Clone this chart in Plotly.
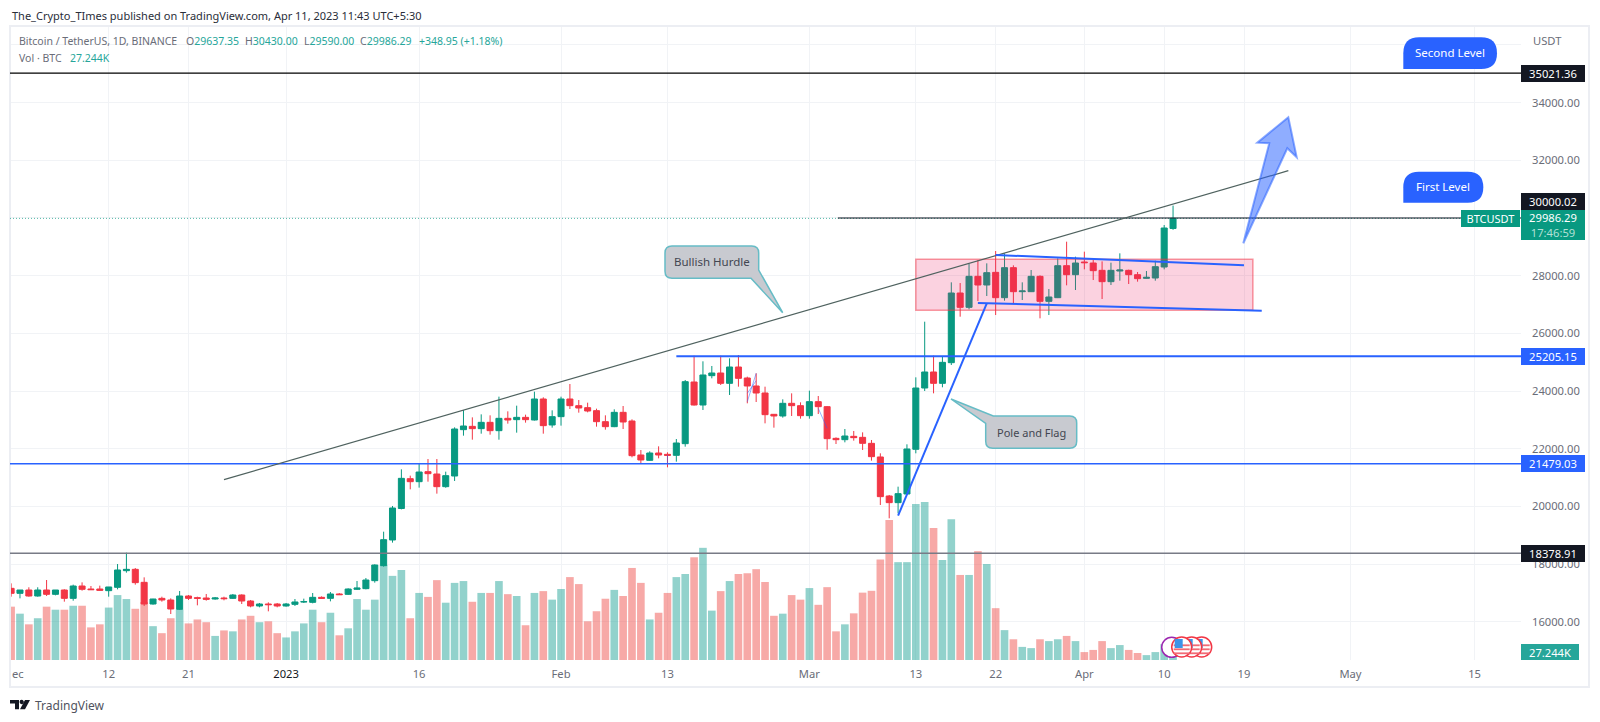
import pandas as pd
import plotly.graph_objects as go

# the page keeps an 8px body margin, so the figure is 16px smaller than the window
PAGE_MARGIN = 8
W = 1600 - 2 * PAGE_MARGIN
H = 722 - 2 * PAGE_MARGIN

# daily candles, Dec 1 2022 to Apr 11 2023
dates = pd.date_range("2022-12-01", periods=132).strftime("%Y-%m-%d").tolist()

opens = [
    17163,16990,17105,16897,17105,16955,17105,16816,17244,17140,17140,17082,17198,17775,17822,17371,
    16620,16816,16759,16435,16897,16840,16828,16793,16828,16816,16932,16724,16551,16620,16620,
    16551,16608,16690,16678,16851,16816,16967,16955,17129,17152,17429,17949,18839,19930,20964,20860,
    21207,21126,20687,21057,22663,22778,22698,22917,22628,23056,23010,23090,22998,23726,22825,
    23114,23726,23495,23426,23322,22940,22767,23264,22963,21785,21600,21854,21808,21773,
    22178,24315,23518,24535,24627,24269,24835,24454,24177,23934,23195,23137,23576,23495,
    23148,23634,23460,22362,22316,22432,22397,22189,21716,20364,20133,20433,21982,24107,24662,24269,
    24985,27400,26903,27978,27677,28116,27238,28278,27446,27446,27978,27111,27238,28347,28035,
    28474,28440,28186,27793,28162,28186,28035,27908,27920,28301,29637.35,
]
highs = [
    17336,17105,17200,17200,17452,17105,17130,17290,17370,17244,17256,17210,18006,18400,17868,17544,
    16800,16874,16816,17071,16932,16874,16967,16863,16874,16967,16955,16759,16655,16678,16655,
    16655,16793,16805,17001,16885,17036,17001,17163,17417,17521,17995,19127,20018,21288,21069,21496,
    21646,21646,21207,22744,23345,23090,23194,23160,23807,23298,23495,23183,23980,23784,23333,
    23807,24246,23691,23599,23391,23160,23368,23483,23021,21958,21912,22085,21877,22339,
    24385,25228,25032,24870,25228,25136,25251,24500,24616,24153,23206,23714,23922,23610,
    24015,23830,23483,22397,22686,22617,22570,22305,21843,20399,20687,22155,24477,26406,25228,25193,
    27770,27746,28405,28544,28428,28856,28775,28359,27770,28197,28012,27538,28601,29179,28659,
    28833,28544,28497,28451,28775,28209,28128,28162,28521,29757,30430,
]
lows = [
    16874,16816,16874,16874,16897,16920,16701,16735,17082,17105,17082,16874,17128,17706,17290,16551,
    16597,16701,16273,16412,16759,16574,16736,16770,16747,16793,16620,16505,16505,16366,16505,
    16528,16551,16655,16643,16793,16712,16932,16932,17105,17128,17360,17914,18747,19900,20595,20653,
    20860,20445,20650,20884,22455,22316,22524,22490,22316,22871,22559,22906,22980,22524,22732,
    22802,23379,23252,23264,22767,22663,22750,22686,21704,21473,21588,21669,21357,21554,
    22074,23500,23345,24442,24211,23865,24153,23576,23622,22882,22732,23079,23137,23044,
    23044,23206,21970,22166,22224,22282,21958,21589,20052,19590,19763,20420,21843,24003,23922,24131,
    24904,26579,26834,27122,27296,26637,27134,27018,27157,27434,26522,26637,27225,27666,27504,
    28220,27850,27192,27677,27827,27712,27793,27897,27827,28220,29590,
]
closes = [
    16990,17105,16897,17105,16955,17105,16816,17244,17129,17117,17094,17210,17799,17822,17360,16620,
    16793,16759,16447,16897,16816,16816,16782,16828,16805,16932,16724,16551,16620,16597,16551,
    16620,16690,16701,16851,16816,16967,16944,17140,17175,17452,17972,18850,19948,20976,20860,21195,
    21138,20687,21069,22686,22790,22698,22917,22628,23056,22998,23090,23010,23726,22802,23114,
    23726,23495,23414,23310,22940,22767,23264,22929,21762,21612,21854,21785,21773,22201,
    24327,23518,24558,24627,24269,24835,24442,24177,23934,23183,23137,23576,23495,23148,
    23634,23460,22351,22316,22443,22386,22189,21727,20341,20133,20445,21993,24107,24662,24269,24997,
    27400,26903,27978,27677,28105,27238,28278,27446,27470,27978,27111,27261,28347,28035,28440,
    28451,28174,27793,28186,28197,28035,27897,27943,28313,29653,29986.29,
]
# volume in thousands of BTC
volumes = [
    175,152,117,137,175,165,165,178,178,107,117,172,213,200,168,190,111,88,137,166,120,133,124,79,97,94,133,145,124,127,88,
    74,94,120,165,124,155,81,104,200,165,198,312,276,295,137,220,207,262,188,253,259,191,220,220,259,216,210,114,220,226,198,
    233,272,249,127,160,201,230,210,302,253,133,155,220,272,282,337,368,162,226,259,282,285,298,256,145,152,213,198,
    236,181,239,94,117,153,221,227,330,459,321,321,512,518,433,328,462,279,279,357,315,170,98,68,43,39,68,62,68,79,62,
    26,33,62,39,49,33,23,16,26,52,27.244,
]

price_ticks = [16000,18000,20000,22000,24000,26000,28000,30000,32000,34000,36000]
price_labels = ["16000.00","18000.00","20000.00","22000.00","24000.00","26000.00","28000.00","30000.00","32000.00","34000.00",""]
date_ticks = ["2022-12-12","2022-12-21","2023-01-01","2023-01-16","2023-02-01","2023-02-13","2023-03-01",
              "2023-03-13","2023-03-22","2023-04-01","2023-04-10","2023-04-19","2023-05-01","2023-05-15"]
date_labels = ["12","21","<span style='color:#131722'>2023</span>","16","Feb","13","Mar","13","22","Apr","10","19","May","15"]

level_second = 35021.36
level_first = 30000.02
last_price = 29986.29
level_blue_high = 25205.15
level_blue_low = 21479.03
level_grey = 18378.91

# drawings on the chart, (date, price) ends
hurdle_line = [("2022-12-25", 20929), ("2023-04-24", 31640)]
pole_line = [("2023-03-11", 19681), ("2023-03-21", 27043)]
flag_lower = [("2023-03-20", 27054), ("2023-04-21", 26787)]
flag_upper = [("2023-03-22", 28717), ("2023-04-19", 28360)]
flag_box = [("2023-03-13", 28568), ("2023-04-20", 26801)]
pencil_lines = [
    [("2023-02-22", 23633), ("2023-02-23", 24617)],
    [("2023-02-22", 23924), ("2023-02-23", 24360)],
    [("2023-03-02", 23404), ("2023-03-03", 22711)],
    [("2023-02-13", 21785), ("2023-02-13", 21507)],
]

GREEN = "#089981"
RED = "#f23645"
BLUE = "#2962ff"
GREY_TEXT = "#6a6d78"
FONT = "Noto Sans"

# window pixels to paper coordinates
def X(px):
    return (px - PAGE_MARGIN) / W

def Y(py):
    return 1 - (py - PAGE_MARGIN) / H

def path(points):
    # points in window pixels, tuples with 4 values are a rounded corner
    out = ""
    for i, p in enumerate(points):
        if len(p) == 4:
            out += f"Q{X(p[0])},{Y(p[1])} {X(p[2])},{Y(p[3])} "
        else:
            out += ("M" if i == 0 else "L") + f"{X(p[0])},{Y(p[1])} "
    return out + "Z"

vol_colors = ["rgba(38,166,154,0.5)" if c >= o else "rgba(239,83,80,0.5)" for o, c in zip(opens, closes)]

fig = go.Figure()
fig.add_trace(go.Bar(x=dates, y=volumes, marker=dict(color=vol_colors, line=dict(width=0)),
                     xaxis="x", yaxis="y", width=86400000 * 0.86, showlegend=False))
fig.add_trace(go.Candlestick(x=dates, open=opens, high=highs, low=lows, close=closes,
                             xaxis="x", yaxis="y2", whiskerwidth=0,
                             increasing=dict(line=dict(color=GREEN, width=1), fillcolor=GREEN),
                             decreasing=dict(line=dict(color=RED, width=1), fillcolor=RED),
                             showlegend=False))

shapes = []

# outer frame
shapes.append(dict(type="rect", xref="paper", yref="paper", x0=X(10), x1=X(1589), y0=Y(687), y1=Y(26),
                   line=dict(color="#eceef3", width=2), fillcolor="rgba(0,0,0,0)"))

def hline(price, color, width, x_from=None, x_end=1521, dash="solid"):
    if x_from is None:
        shapes.append(dict(type="line", xref="paper", yref="y2", x0=X(10), x1=X(x_end), y0=price, y1=price,
                           line=dict(color=color, width=width, dash=dash)))
    else:
        shapes.append(dict(type="line", xref="x", yref="y2", x0=x_from, x1="2023-05-20 05:30", y0=price, y1=price,
                           line=dict(color=color, width=width, dash=dash)))

hline(last_price, "rgba(8,153,129,0.7)", 1, x_end=1461, dash="1px,2px")
hline(level_first, "#131722", 1.2, x_from="2023-03-04 05:00")
hline(level_second, "#000000", 1.2)
hline(level_blue_high, BLUE, 2, x_from="2023-02-14")
hline(level_blue_low, BLUE, 1.5)
hline(level_grey, "#787b86", 1.5)

def seg(ends, color, width):
    shapes.append(dict(type="line", xref="x", yref="y2", x0=ends[0][0], y0=ends[0][1], x1=ends[1][0], y1=ends[1][1],
                       line=dict(color=color, width=width)))

shapes.append(dict(type="rect", xref="x", yref="y2", x0=flag_box[0][0], y0=flag_box[0][1], x1=flag_box[1][0], y1=flag_box[1][1],
                   fillcolor="rgba(233,30,99,0.2)", line=dict(color="rgba(242,54,69,0.5)", width=1.5)))
seg(hurdle_line, "#4f625f", 1.2)
seg(pole_line, BLUE, 2)
seg(flag_lower, BLUE, 2)
seg(flag_upper, BLUE, 2)
for p in pencil_lines:
    seg(p, "rgba(41,98,255,0.5)", 1)

# big arrow
shapes.append(dict(type="path", xref="paper", yref="paper",
                   path=path([(1243.3,243.3),(1269.3,143.3),(1257.3,142.7),(1288.3,117.3),(1296.7,157.3),(1287.3,148.3)]),
                   fillcolor="rgba(41,98,255,0.52)", line=dict(color="rgba(41,98,255,0.55)", width=2)))

# callouts
r = 7
call_fill = "#c8cad0"
call_line = dict(color="#66bcc6", width=1.5)
shapes.append(dict(type="path", xref="paper", yref="paper", fillcolor=call_fill, line=call_line, path=path([
    (665+r,246),(758.7-r,246),(758.7,246,758.7,246+r),(758.7,270),(782.7,312.7),(751,278.3),(665+r,278.3),
    (665,278.3,665,278.3-r),(665,246+r),(665,246,665+r,246)])))
shapes.append(dict(type="path", xref="paper", yref="paper", fillcolor=call_fill, line=call_line, path=path([
    (993.3,416),(1076.7-r,416),(1076.7,416,1076.7,416+r),(1076.7,448.3-r),(1076.7,448.3,1076.7-r,448.3),
    (985.7+r,448.3),(985.7,448.3,985.7,448.3-r),(985.7,423.3),(951,399)])))

# level pills, bottom left corner stays square
def pill(x0, x1, y0, y1):
    rad = (y1 - y0) / 2
    shapes.append(dict(type="path", xref="paper", yref="paper", fillcolor=BLUE, line=dict(width=0), path=path([
        (x0+rad,y0),(x1-rad,y0),(x1,y0,x1,y0+rad),(x1,y1,x1-rad,y1),(x0,y1),(x0,y0+rad),(x0,y0,x0+rad,y0)])))

pill(1403.3, 1497, 37.3, 69)
pill(1403.3, 1483.3, 171.7, 202.7)

# calendar icons on the last bars
def circle(cx, cy, rad, fill, color):
    shapes.append(dict(type="circle", xref="paper", yref="paper", x0=X(cx-rad), x1=X(cx+rad), y0=Y(cy+rad), y1=Y(cy-rad),
                       fillcolor=fill, line=dict(color=color, width=1.5)))

def flag(cx, cy):
    circle(cx, cy, 10, "white", "#f23645")
    for dy in (-2, 2, 6):
        shapes.append(dict(type="rect", xref="paper", yref="paper", x0=X(cx-8), x1=X(cx+8), y0=Y(cy+dy+1.2), y1=Y(cy+dy-0.6),
                           fillcolor="#f26a75", line=dict(width=0)))
    shapes.append(dict(type="rect", xref="paper", yref="paper", x0=X(cx-7), x1=X(cx+1), y0=Y(cy+1), y1=Y(cy-8),
                       fillcolor="#3d94e8", line=dict(width=0)))

flag(1201.7, 647)
flag(1191.7, 647)
circle(1171.7, 647.3, 10, "white", "#9c27b0")
flag(1181.7, 647)

# TradingView logo
shapes.append(dict(type="path", xref="paper", yref="paper", fillcolor="#131722", line=dict(width=0),
                   path=path([(10,700),(19,700),(19,709.3),(15,709.3),(15,703.5),(10,703.5)])))
shapes.append(dict(type="path", xref="paper", yref="paper", fillcolor="#131722", line=dict(width=0),
                   path=path([(25,700),(30,700),(25,709.3),(20,709.3)])))
circle(21.7, 702, 1.4, "#131722", "#131722")

annotations = []

def text(px, py, s, color="#131722", size=12, anchor="left"):
    annotations.append(dict(xref="paper", yref="paper", x=X(px), y=Y(py), text=s, showarrow=False,
                            xanchor=anchor, yanchor="middle", font=dict(family=FONT, size=size, color=color)))

def price_box(price, s, bg, shift=0, width=64, height=17):
    annotations.append(dict(xref="paper", yref="y2", x=X(1521 + width / 2), y=price, yshift=shift, text=s, showarrow=False,
                            xanchor="center", yanchor="middle", width=width, height=height, bgcolor=bg, borderpad=0, borderwidth=0,
                            font=dict(family=FONT, size=11.2, color="white")))

text(10, 15, "The_Crypto_TImes published on TradingView.com, Apr 11, 2023 11:43 UTC+5:30", "#2a2e39", 11)
text(17, 41, "Bitcoin / TetherUS, 1D, BINANCE", GREY_TEXT, 10.5)
for px, letter, val in [(184, "O", "29637.35"), (243.3, "H", "30430.00"), (301.7, "L", "29590.00"), (358.3, "C", "29986.29")]:
    text(px, 41, f"{letter}<span style='color:#26a69a'>{val}</span>", GREY_TEXT, 10.5)
text(416.7, 41, "+348.95 (+1.18%)", "#26a69a", 10.5)
text(17, 58, "Vol · BTC", GREY_TEXT, 10.5)
text(68.3, 58, "27.244K", "#26a69a", 10.5)
text(1531, 40, "USDT", GREY_TEXT, 11.2)
text(10, 673.3, "ec", GREY_TEXT, 11.2)
text(33, 705, "TradingView", "#50535e", 12)
text(711.8, 261.5, "Bullish Hurdle", "#434651", 11.5, "center")
text(1031.2, 432, "Pole and Flag", "#434651", 11, "center")
text(1450, 53, "Second Level", "white", 11.5, "center")
text(1443, 187, "First Level", "white", 11.5, "center")

price_box(level_second, "35021.36", "#131722")
price_box(level_first, "30000.02", "#131722", shift=16)
price_box(level_blue_high, "25205.15", BLUE)
price_box(level_blue_low, "21479.03", BLUE)
price_box(level_grey, "18378.91", "#131722")
price_box(last_price, "29986.29<br><span style='color:#b2e0d6'>17:46:59</span>", GREEN, shift=-6.5, height=30)
annotations.append(dict(xref="paper", yref="paper", x=X(1490.5), y=Y(218.3), text="BTCUSDT", showarrow=False,
                        xanchor="center", yanchor="middle", width=59, height=16.5, bgcolor=GREEN, borderpad=0, borderwidth=0,
                        font=dict(family=FONT, size=11, color="white")))
annotations.append(dict(xref="paper", yref="paper", x=X(1550), y=Y(652), text="27.244K", showarrow=False,
                        xanchor="center", yanchor="middle", width=58, height=16, bgcolor="#26a69a", borderpad=0, borderwidth=0,
                        font=dict(family=FONT, size=11.2, color="white")))

fig.update_layout(
    width=W,
    height=H,
    margin=dict(l=0, r=0, t=0, b=0),
    paper_bgcolor="white",
    plot_bgcolor="white",
    template="none",
    showlegend=False,
    bargap=0.14,
    boxgap=0.32,
    boxgroupgap=0,
    shapes=shapes,
    annotations=annotations,
    xaxis=dict(domain=[X(10), X(1521)], anchor="y", type="date",
               range=["2022-11-30 21:00", "2023-05-20 05:30"],
               rangeslider=dict(visible=False),
               tickmode="array", tickvals=date_ticks, ticktext=date_labels,
               showgrid=True, gridcolor="#f1f3f6", gridwidth=1, zeroline=False, showline=False, ticks="",
               ticklabelstandoff=6,
               tickfont=dict(family=FONT, size=11.2, color=GREY_TEXT)),
    yaxis=dict(domain=[Y(660), Y(26)], range=[0, 2080], visible=False, showgrid=False, zeroline=False),
    yaxis2=dict(domain=[Y(660), Y(26)], anchor="x", overlaying="y", side="right",
                range=[14679, 36655],
                tickmode="array", tickvals=price_ticks, ticktext=price_labels,
                showgrid=True, gridcolor="#f1f3f6", gridwidth=1, zeroline=False, showline=False, ticks="",
                ticklabelstandoff=10,
                tickfont=dict(family=FONT, size=11.2, color=GREY_TEXT)),
)

fig.write_html("out.html")
